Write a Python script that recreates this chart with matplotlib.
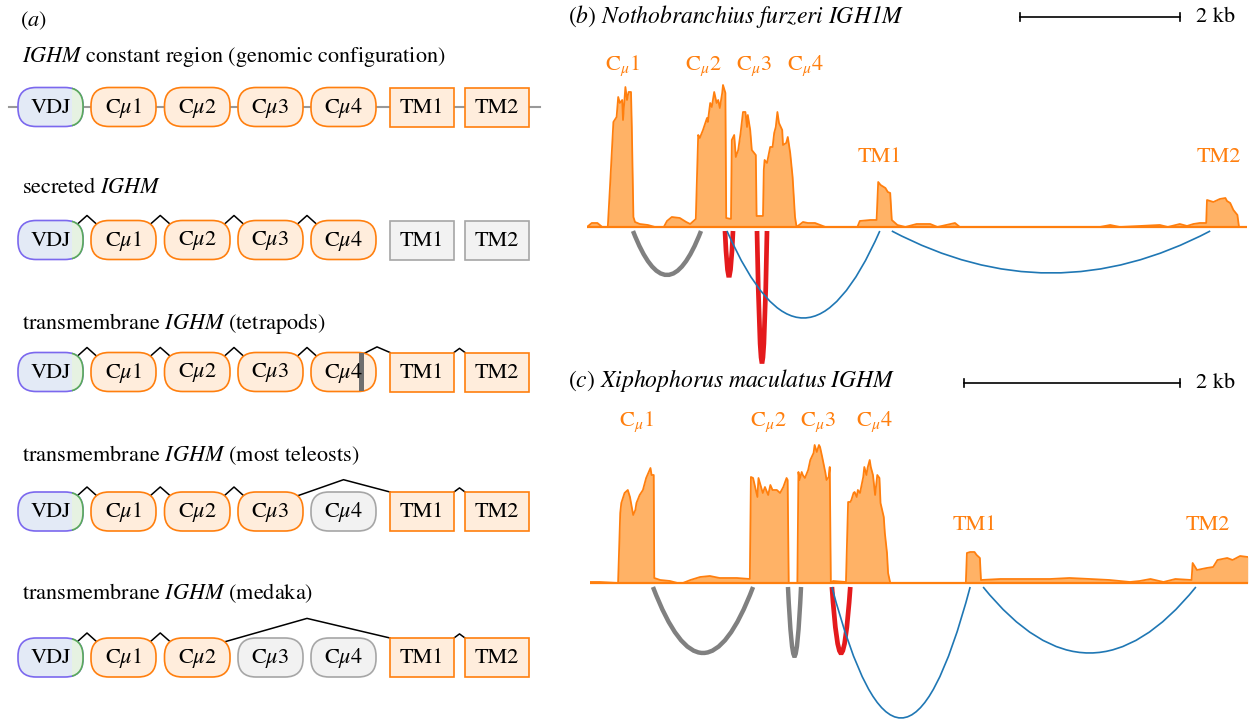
import matplotlib.pyplot as plt
from matplotlib.patches import FancyBboxPatch, Rectangle, PathPatch
from matplotlib.path import Path
from matplotlib.transforms import Bbox, TransformedBbox

plt.rcParams['font.family'] = 'STIXGeneral'
plt.rcParams['mathtext.fontset'] = 'custom'
plt.rcParams['mathtext.rm'] = 'STIXGeneral'
plt.rcParams['mathtext.it'] = 'STIXGeneral:italic'
plt.rcParams['mathtext.sf'] = 'STIXGeneral:italic'   # used for fully italic gene names (digits too)

# ---------------- panel (a): exon structure of the isoforms ----------------
exon_names = ['VDJ', r'C$\mu$1', r'C$\mu$2', r'C$\mu$3', r'C$\mu$4', 'TM1', 'TM2']
exon_kind = ['vdj', 'c', 'c', 'c', 'c', 'tm', 'tm']
row_titles = [r'$\mathit{IGHM}$ constant region (genomic configuration)',
              r'secreted $\mathit{IGHM}$',
              r'transmembrane $\mathit{IGHM}$ (tetrapods)',
              r'transmembrane $\mathit{IGHM}$ (most teleosts)',
              r'transmembrane $\mathit{IGHM}$ (medaka)']
row_skipped = [[], [5, 6], [], [4], [3, 4]]
row_junctions = [[],
                 [(0, 1), (1, 2), (2, 3), (3, 4)],
                 [(0, 1), (1, 2), (2, 3), (3, 4), (4, 5), (5, 6)],
                 [(0, 1), (1, 2), (2, 3), (3, 5), (5, 6)],
                 [(0, 1), (1, 2), (2, 5), (5, 6)]]
cryptic_donor_row = 2   # internal splice donor inside Cmu4 (tetrapods)

# ---------------- panel (b): Nothobranchius furzeri coverage ----------------
b_pos = [0, 0.06, 0.13, 0.19, 0.26, 0.29, 0.33, 0.37, 0.39, 0.41, 0.44, 0.45, 0.48, 0.50, 0.52,
         0.55, 0.56, 0.58, 0.60, 0.66, 0.76, 0.85, 0.96, 1.00, 1.06, 1.16, 1.24, 1.29, 1.36, 1.39,
         1.41, 1.45, 1.50, 1.51, 1.54, 1.56, 1.59, 1.62, 1.64, 1.66, 1.69, 1.70, 1.73, 1.74, 1.80,
         1.81, 1.84, 1.86, 1.89, 1.92, 1.95, 1.98, 2.00, 2.01, 2.04, 2.06, 2.11, 2.12, 2.20, 2.21,
         2.22, 2.25, 2.29, 2.32, 2.34, 2.36, 2.38, 2.40, 2.44, 2.45, 2.49, 2.51, 2.54, 2.57, 2.60,
         2.62, 2.70, 2.76, 2.85, 2.98, 3.38, 3.41, 3.54, 3.62, 3.64, 3.67, 3.73, 3.76, 3.79, 3.81,
         3.88, 3.98, 4.12, 4.29, 4.38, 4.60, 4.66, 6.41, 6.54, 6.66, 7.16, 7.26, 7.41, 7.50, 7.58,
         7.66, 7.74, 7.75, 7.83, 7.91, 7.98, 8.00, 8.04, 8.08, 8.13, 8.15, 8.25]
b_depth = [0, 4, 4, 0, 0, 44, 105, 110, 130, 124, 127, 107, 140, 127, 135,
           135, 100, 10, 5, 3, 2, 0, 0, 6, 10, 9, 5, 3, 8, 92,
           89, 97, 109, 105, 124, 120, 135, 124, 127, 119, 134, 142, 134, 9, 8,
           87, 92, 70, 77, 94, 115, 115, 100, 112, 97, 77, 72, 11, 11, 57,
           67, 64, 80, 80, 94, 100, 115, 104, 97, 82, 84, 90, 74, 50, 10,
           0, 5, 4, 4, 0, 0, 6, 7, 7, 45, 42, 39, 35, 34, 7,
           2, 0, 3, 3, 0, 4, 0, 0, 2, 0, 2, 0, 3, 1, 3,
           4, 4, 27, 25, 28, 29, 26, 24, 17, 12, 0, 0]
b_arc_start = [0.575, 1.725, 2.125, 1.75, 3.81]
b_arc_end = [1.425, 1.825, 2.25, 3.66, 7.79]
b_arc_depth = [48, 49, 135, 91, 46]
b_arc_type = ['skip', 'cryptic', 'cryptic', 'tm', 'tm']
b_labels = [r'C$_\mu$1', r'C$_\mu$2', r'C$_\mu$3', r'C$_\mu$4', 'TM1', 'TM2']
b_label_x = [0.44, 1.45, 2.09, 2.73, 3.66, 7.90]
b_label_y = [161, 161, 161, 161, 70, 70]

# ---------------- panel (c): Xiphophorus maculatus coverage ----------------
c_pos = [0, 0.09, 0.26, 0.28, 0.29, 0.32, 0.35, 0.37, 0.40, 0.42, 0.43, 0.46, 0.49, 0.52, 0.54,
         0.56, 0.57, 0.59, 0.595, 0.65, 0.74, 0.81, 0.86, 0.93, 1.02, 1.11, 1.20, 1.36, 1.48, 1.49,
         1.51, 1.55, 1.56, 1.60, 1.62, 1.65, 1.67, 1.69, 1.73, 1.76, 1.79, 1.82, 1.83, 1.84, 1.92,
         1.93, 1.94, 1.96, 1.97, 1.99, 2.02, 2.04, 2.07, 2.08, 2.10, 2.12, 2.13, 2.15, 2.18, 2.19,
         2.21, 2.22, 2.23, 2.25, 2.37, 2.39, 2.41, 2.42, 2.44, 2.45, 2.47, 2.48, 2.50, 2.53, 2.54,
         2.56, 2.57, 2.59, 2.60, 2.62, 2.64, 2.66, 2.68, 2.69, 2.72, 2.73, 2.75, 2.76, 2.78, 3.48,
         3.49, 3.52, 3.56, 3.58, 3.61, 3.62, 3.80, 3.98, 4.26, 4.44, 4.63, 4.81, 5.00, 5.09, 5.19,
         5.31, 5.42, 5.57, 5.58, 5.62, 5.71, 5.77, 5.81, 5.90, 5.95, 6.02, 6.09]
c_depth = [1, 1, 0, 70, 80, 90, 93, 86, 68, 73, 80, 88, 93, 105, 110,
           115, 108, 108, 5, 3, 2, 0, 0, 3, 6, 7, 5, 5, 4, 106,
           105, 86, 105, 90, 96, 88, 98, 93, 93, 90, 96, 105, 103, 0, 0,
           111, 103, 111, 108, 105, 113, 123, 130, 138, 131, 138, 136, 126, 110, 103,
           106, 116, 0, 2, 1, 81, 81, 83, 90, 91, 86, 93, 90, 106, 116,
           108, 115, 123, 116, 108, 88, 108, 105, 80, 66, 50, 30, 10, 0, 0,
           30, 31, 31, 28, 25, 3, 4, 4, 4, 5, 4, 3, 1, 2, 4,
           1, 4, 3, 20, 13, 15, 16, 23, 25, 23, 27, 26]
c_arc_start = [0.583, 1.833, 2.24, 2.24, 3.64]
c_arc_end = [1.51, 1.954, 2.41, 3.52, 5.61]
c_arc_depth = [70, 73, 70, 135, 70]
c_arc_type = ['skip', 'skip', 'cryptic', 'tm', 'tm']
c_labels = [r'C$_\mu$1', r'C$_\mu$2', r'C$_\mu$3', r'C$_\mu$4', 'TM1', 'TM2']
c_label_x = [0.43, 1.65, 2.11, 2.63, 3.56, 5.72]
c_label_y = [161, 161, 161, 161, 58, 58]

scale_kb = 2

# ---------------- styling ----------------
orange = '#ff7f0e'
fill_orange = '#ffb266'
arc_style = {'skip': ('#808080', 3.2), 'cryptic': ('#e41a1c', 3.4), 'tm': ('#1f77b4', 1.2)}
fs = 16

fig = plt.figure(figsize=(12.51, 7.2), dpi=100)
ax0 = fig.add_axes([0, 0, 1, 1])
ax0.set_xlim(0, 1251)
ax0.set_ylim(720, 0)
ax0.axis('off')

# layout of the schematic (pixels)
ex_left = [18, 91, 164.5, 238, 311, 390, 465]
ex_w = [65, 65, 65.5, 65, 65, 64, 64]
box_h = 39
row_y = [107, 240, 372, 511.5, 657.5]
title_y = [57, 188, 324, 455, 593]

ax0.text(20, 21, r'($\mathit{a}$)', fontsize=fs, va='center', ha='left')


def draw_box(k, yc, skipped, cryptic=False):
    x, w = ex_left[k], ex_w[k]
    top = yc - box_h / 2
    kind = exon_kind[k]
    style = 'round,pad=0,rounding_size=18' if kind != 'tm' else 'square,pad=0'
    if skipped:
        fc, ec = '#f2f2f2', '#a6a6a6'
    elif kind == 'vdj':
        fc, ec = '#e3eaf6', '#7b68ee'
    else:
        fc, ec = '#ffeddc', orange
    ax0.add_patch(FancyBboxPatch((x, top), w, box_h, boxstyle=style, fc=fc, ec=ec, lw=1.2, zorder=3))
    if kind == 'vdj':
        # joining segment end of the VDJ exon drawn in green
        p = ax0.add_patch(FancyBboxPatch((x, top), w, box_h, boxstyle=style,
                                         fc='#e6f2e2', ec='#5aaa5a', lw=1.2, zorder=4))
        p.set_clip_box(TransformedBbox(Bbox([[x + w - 11, top - 5], [x + w + 8, top + box_h + 5]]),
                                       ax0.transData))
        p.set_clip_path(None)
    if cryptic:
        ax0.add_patch(Rectangle((x + w - 17, top + 0.7), 5, box_h - 1.4, fc='#6e6e6e', ec='none', zorder=5))
    ax0.text(x + w / 2, yc + 1, exon_names[k], fontsize=fs, ha='center', va='center', zorder=6)


def junction_point(k, yc, side):
    top = yc - box_h / 2
    x, w = ex_left[k], ex_w[k]
    inset = 0 if exon_kind[k] == 'tm' else 6
    dy = 0 if exon_kind[k] == 'tm' else 4
    if side == 'donor':
        return x + w - inset, top + dy
    return x + inset, top + dy


for r in range(len(row_titles)):
    yc = row_y[r]
    ax0.text(22, title_y[r], row_titles[r], fontsize=fs, va='center', ha='left')
    if r == 0:
        ax0.plot([9, 540], [yc, yc], color='#999999', lw=1.5, zorder=1)
    for k in range(len(exon_names)):
        draw_box(k, yc, k in row_skipped[r], cryptic=(r == cryptic_donor_row and k == 4))
    for a, b in row_junctions[r]:
        x0, y0 = junction_point(a, yc, 'donor')
        if r == cryptic_donor_row and a == 4:
            x0, y0 = ex_left[4] + ex_w[4] - 12, yc - box_h / 2 + 1
        x1, y1 = junction_point(b, yc, 'acceptor')
        span = x1 - x0
        peak = yc - box_h / 2 - (3 + 0.1 * span)
        ax0.plot([x0, (x0 + x1) / 2, x1], [y0, peak, y1], color='black', lw=1.1, zorder=2)


# ---------------- coverage panels ----------------
def sashimi(rect, xlim, ylim, pos, depth, arc_s, arc_e, arc_d, arc_t, labels, lx, ly, bar_x0, bar_y):
    ax = fig.add_axes(rect)
    ax.set_xlim(*xlim)
    ax.set_ylim(*ylim)
    ax.axis('off')
    ax.fill_between(pos, depth, 0, color=fill_orange, lw=0, zorder=2)
    ax.plot(pos, depth, color=orange, lw=1.3, zorder=3)
    ax.axhline(0, color=orange, lw=1.6, zorder=3)
    for s, e, d, t in zip(arc_s, arc_e, arc_d, arc_t):
        col, lw = arc_style[t]
        y0 = -4
        yc = 2 * (-d) - y0
        path = Path([(s, y0), ((s + e) / 2, yc), (e, y0)], [Path.MOVETO, Path.CURVE3, Path.CURVE3])
        ax.add_patch(PathPatch(path, fill=False, ec=col, lw=lw, zorder=4))
    for t, x, y in zip(labels, lx, ly):
        ax.text(x, y, t, color=orange, fontsize=fs, ha='center', va='center')
    # scale bar
    ax.plot([bar_x0, bar_x0 + scale_kb], [bar_y, bar_y], color='black', lw=1.2, clip_on=False)
    for xx in (bar_x0, bar_x0 + scale_kb):
        ax.plot([xx, xx], [bar_y - 4, bar_y + 4], color='black', lw=1.2, clip_on=False)
    ax.annotate('%d kb' % scale_kb, xy=(bar_x0 + scale_kb, bar_y), xytext=(12, 0),
                textcoords='offset points', fontsize=fs, va='center', ha='left', annotation_clip=False)
    return ax


# panel b: x 587..1247 px (80 px per kb), baseline at y=227 px
sashimi([587 / 1251, 1 - 370 / 720, 660 / 1251, 310 / 720], (0, 660 / 80), (-143, 167),
        b_pos, b_depth, b_arc_start, b_arc_end, b_arc_depth, b_arc_type,
        b_labels, b_label_x, b_label_y, 5.41, 210)
# panel c: x 590..1248 px (108 px per kb), baseline at y=583 px
sashimi([590 / 1251, 0, 658 / 1251, 300 / 720], (0, 658 / 108), (-137, 163),
        c_pos, c_depth, c_arc_start, c_arc_end, c_arc_depth, c_arc_type,
        c_labels, c_label_x, c_label_y, 3.46, 200)

ax0.text(568, 17, r'($\mathit{b}$) $\mathsf{Nothobranchius\ furzeri\ IGH1M}$', fontsize=17, va='center', ha='left')
ax0.text(568, 381, r'($\mathit{c}$) $\mathsf{Xiphophorus\ maculatus\ IGHM}$', fontsize=17, va='center', ha='left')

fig.savefig('out.png', dpi=100)
